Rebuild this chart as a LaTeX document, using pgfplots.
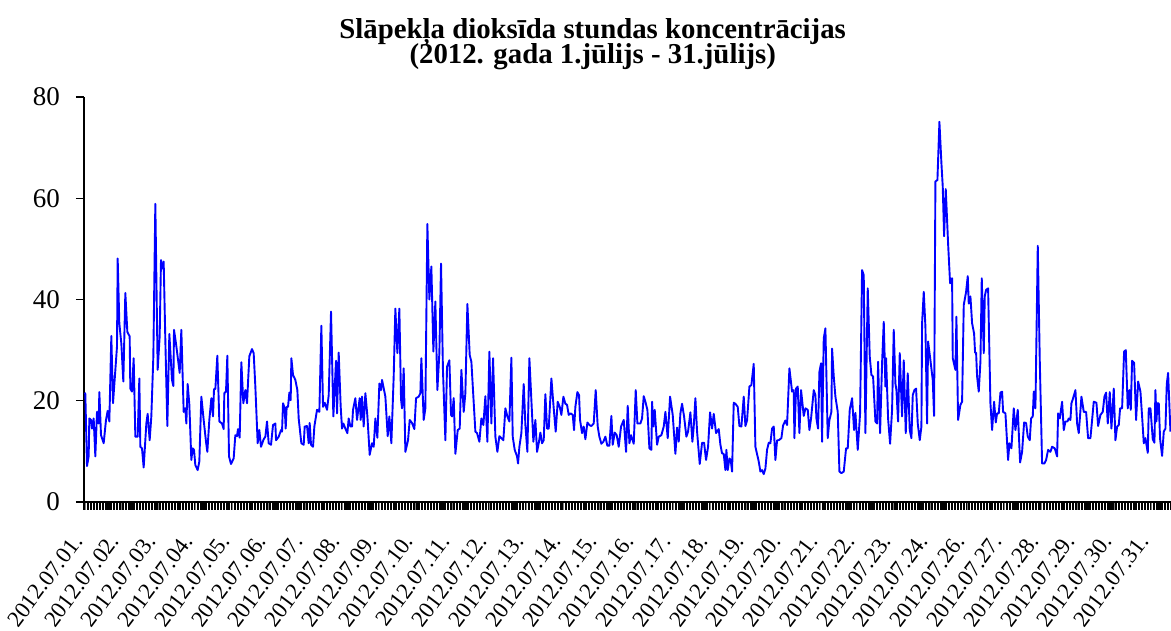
\documentclass[border=0pt]{standalone}
\usepackage{pgfplots}
\pgfplotsset{compat=1.18}
\usepackage{fontspec}
\setmainfont{Liberation Serif}
\begin{document}
\begin{tikzpicture}
\begin{axis}[
  scale only axis,
  width=543.5pt, height=202.5pt,
  xmin=-0.5, xmax=709, ymin=0, ymax=80,
  axis lines=left,
  axis line style={-, line width=0.8pt, black},
  tick align=outside,
  /pgf/number format/assume math mode=true,
  ytick={0,20,40,60,80},
  yticklabel style={font=\fontsize{13.5pt}{13.5pt}\selectfont, xshift=-4.5pt},
  ytick style={line width=0.6pt, black},
  major tick length=4pt,
  minor xtick={-0.5,0.5,...,708.5},
  minor tick length=4pt,
  minor x tick style={line width=0.55pt, black},
  xtick={0,24,...,696},
  xticklabels={2012.07.01.,2012.07.02.,2012.07.03.,2012.07.04.,2012.07.05.,2012.07.06.,2012.07.07.,2012.07.08.,2012.07.09.,2012.07.10.,2012.07.11.,2012.07.12.,2012.07.13.,2012.07.14.,2012.07.15.,2012.07.16.,2012.07.17.,2012.07.18.,2012.07.19.,2012.07.20.,2012.07.21.,2012.07.22.,2012.07.23.,2012.07.24.,2012.07.26.,2012.07.27.,2012.07.28.,2012.07.29.,2012.07.30.,2012.07.31.},
  xticklabel style={xshift=-3.5pt, yshift=-13.5pt, rotate=53, anchor=east, font=\fontsize{11.4pt}{11.4pt}\selectfont, inner sep=0pt},
  title={Slāpekļa dioksīda stundas koncentrācijas\\[-2pt](2012. gada 1.jūlijs - 31.jūlijs)},
  title style={at={(0.468,1)}, anchor=north, yshift=33.5pt, inner sep=0pt, align=center, font=\bfseries\fontsize{14.4pt}{12pt}\selectfont},
  clip=true,
]
\addplot[color={rgb,255:red,0;green,0;blue,255}, line width=0.95pt, line join=round] table {
0 21.6
0.37 21.3
1.46 7.1
2.55 9
2.98 16.5
4.07 16.2
4.72 14.5
5.81 16.5
6.9 9
7.99 17.8
9.07 15.5
9.51 21.7
10.6 13.2
12.34 11.6
13.86 16.2
14.95 18
16.04 15.9
17.34 32.8
18.43 19.5
19.95 26
21.04 30.7
21.48 48.1
22.56 35.3
23.87 31.3
25.17 23.8
26.48 41.3
27.79 33.6
29.31 32.7
29.74 22.4
30.83 21.8
31.92 28.4
33.01 12.9
34.53 12.9
35.62 24.4
36.27 10.9
37.36 10.6
38.45 6.8
40.19 15.5
41.06 17.4
42.36 12.2
43.45 16.9
44.76 28.7
46.06 58.9
47.59 26.1
48.89 32.7
49.76 47.8
50.41 46.1
51.5 47.5
52.59 32
53.9 15
55.2 33.2
56.94 24.1
57.81 22.9
58.25 34
59.55 31.3
61.29 27.1
61.95 25.5
63.03 34
64.56 17.8
65.65 18.5
66.3 15.5
67.17 23.3
68.26 19.2
69.56 8.3
70.43 10.6
71.3 10.3
72.17 7.3
73.69 6.3
74.78 8
76.09 20.8
77.61 16.2
79.13 11.9
80.0 9.9
81.31 16.2
82.62 20.5
83.7 16.9
84.36 22.3
85.23 22.3
86.53 28.9
87.84 15.9
89.58 15.5
90.67 14.4
91.1 21.5
92.19 21.8
93.06 28.9
94.15 9
95.45 7.5
97.19 8.6
98.28 13.2
99.37 13
100.02 14.4
101.11 12.7
102.2 27.6
103.5 19.5
104.81 22.1
105.9 19.5
107.42 28.8
109.16 30.2
110.25 29.4
111.34 22.8
112.86 11.6
113.95 14.2
115.03 10.9
116.79 12.4
117.88 12.9
118.96 15.9
120.05 11.6
121.57 11.3
122.88 15.2
124.4 15.5
124.84 12.2
126.58 12.9
128.1 14.2
128.75 13.9
129.41 19.5
130.5 18.5
131.15 14.5
131.8 18.8
132.67 18.8
133.54 21.6
134.41 20.1
134.85 28.4
135.94 25.1
137.46 24.1
138.76 22.1
139.63 16.5
141.37 11.6
142.9 11.3
143.55 14.9
145.07 15
146.16 11.6
146.81 15.6
147.68 11.3
148.99 10.9
149.86 14.9
151.6 18.2
153.12 17.8
154.43 34.8
155.52 18.8
156.61 19.6
158.13 18.2
159.22 21.1
160.74 37.6
162.26 16.9
164.0 27.9
164.66 17.5
165.74 29.5
167.05 18.8
167.92 14.5
168.79 15.5
170.1 14.5
171.4 13.6
172.27 16.5
173.36 14.9
174.45 14.9
175.1 18.2
176.62 20.5
177.71 16.2
179.45 20.5
180.1 16.2
180.97 20.8
182.06 14.9
183.15 21.5
184.46 17
185.98 9.3
187.5 11.6
188.59 10.9
189.68 16.5
190.98 12.7
192.29 23.4
193.38 22.1
194.03 24.1
196.21 20.8
197.73 13
198.82 16.9
200.12 11.6
201.64 24.8
202.73 38.2
204.04 29.4
205.34 38.2
206.43 20.3
207.08 18.5
208.17 26.4
209.26 9.9
211.0 12.2
212.09 16.2
213.61 15.6
215.14 14.4
216.23 20.5
217.96 20.8
219.05 21.5
219.7 28.4
221.23 16.2
222.31 18.5
223.62 54.9
224.93 40
226.23 46.5
227.54 29.7
228.84 39.6
230.15 22.1
231.45 29.4
232.54 47.1
233.8 26
235.38 12.2
236.46 26.7
237.99 28
239.07 17.2
239.73 16.9
240.82 20.5
241.9 9.5
243.43 14.2
244.73 14.5
245.82 26.1
247.34 17.8
248.43 21.5
249.74 39.1
251.26 29
252.35 27.7
253.65 20.8
254.96 13.9
256.05 13.6
257.57 11.9
258.87 16.5
260.18 15.2
261.49 20.9
262.79 11.9
264.1 29.7
265.4 15.5
266.49 28.4
268.01 12.9
269.32 9.9
270.62 13
271.93 12.6
273.23 12.2
274.54 18.5
275.85 16.9
277.15 15.9
278.46 28.5
279.33 12.9
280.63 10.3
282.16 9
282.81 7.6
283.68 10.9
284.98 13.6
286.51 23.3
287.6 15.2
288.9 9.9
290.21 28.4
291.51 20.1
292.82 11.9
294.12 16.2
295.21 9.9
296.3 11.6
297.39 13.7
298.47 11.6
299.56 12.2
300.65 21.3
301.74 14.5
302.83 14.5
304.57 24.4
306.09 18.5
307.39 13.9
308.7 19.8
310.0 18.8
311.09 17.2
312.4 20.8
313.7 19.4
314.79 19.2
315.88 17.2
317.19 17.5
318.49 17.2
319.36 14.2
320.23 18.8
321.54 21.7
322.63 21.1
323.28 16.2
324.58 13.6
325.67 14.9
326.76 12.4
328.07 15.7
329.37 15.2
330.68 15
332.2 15.5
333.5 22.1
334.81 14.9
335.9 12.9
337.2 11.5
338.51 11.9
339.81 12.9
341.12 11.1
342.42 11.1
343.73 17
344.6 11.3
345.91 13.7
347.21 13.2
348.52 10.9
350.04 14.9
351.79 16.2
353.31 9.9
354.4 19
355.49 11.6
356.57 13.2
358.32 11.5
359.62 22.1
360.71 15.5
362.67 15.5
363.75 16.5
364.84 20.9
365.93 19.8
367.24 18.2
368.54 10.6
369.85 10.3
370.28 19.8
371.15 14.9
372.02 18.2
373.55 11.3
374.63 12.9
376.37 13.2
377.9 14.9
378.99 17.8
380.51 12.6
382.03 20.8
383.77 17.2
385.51 9.5
386.6 14.7
387.69 11.9
388.78 17.5
389.86 19.4
391.17 16.9
392.69 12.9
393.78 13.9
395.3 17.7
396.61 11.9
397.48 14.9
398.57 20.5
399.66 13.9
401.4 7.5
402.92 11.7
404.23 11.7
405.53 8.3
406.84 10.9
408.14 17.7
409.45 14.5
410.54 17.4
412.06 13.6
413.8 14.4
414.89 11.3
415.97 9.6
417.06 9.5
418.15 6.3
418.8 10.3
419.67 6.3
420.76 8.6
421.63 8.3
422.5 6
423.59 19.6
424.68 19.4
426.2 18.8
427.29 15
428.59 14.9
430.12 20.8
431.21 15
432.29 16.1
433.82 22.8
435.12 23.1
436.64 27.3
437.73 10.9
439.91 8
441.0 6
442.08 6.3
443.17 5.5
444.26 6.6
445.35 10.3
446.44 11.7
447.52 11.6
448.61 14.5
449.7 14.9
450.79 8.3
451.88 12.2
452.96 12.2
454.7 12.6
455.79 15.1
457.31 16.1
458.4 15.2
459.93 26.4
461.67 21.8
462.75 22.1
463.19 12.6
464.28 22.4
465.37 22.8
466.45 13.6
467.54 22.1
469.29 17
470.38 18.5
471.9 18.2
472.99 14.2
474.07 16.5
475.82 22.1
476.9 21.1
477.56 16.5
478.64 14.5
479.51 25.7
480.6 27.4
481.25 11.9
482.34 32.3
483.43 34.3
484.95 12.6
486.04 16.2
487.35 17.8
487.78 30.3
488.87 24.8
489.96 20.8
491.48 17.8
492.57 6
493.87 5.7
495.4 6
496.92 10.6
498.01 10.6
499.31 18.2
500.84 20.5
502.14 14.2
503.01 17.6
504.54 10.3
506.06 17.5
507.36 45.8
508.45 44.8
509.54 13.6
511.06 42.2
512.37 28.7
513.46 25.1
514.54 24.8
516.07 15.9
517.16 15.5
517.81 27.7
519.11 13.6
520.42 27.4
521.51 35.6
522.6 22.8
523.03 28.4
524.34 16.5
525.64 11.5
526.95 18.2
528.03 34
529.12 23.4
529.78 22.1
530.86 15.9
531.95 29.4
533.47 16.9
534.56 28
535.87 13.6
537.17 25.4
538.48 14.2
539.57 12.6
540.44 21.1
541.52 22.1
542.61 22.4
543.7 15.5
545.01 12.2
546.09 14.9
546.53 35.3
547.62 41.5
548.71 34.6
549.79 15.5
550.45 31.7
551.97 28
553.49 24.1
554.36 17
555.23 63.3
556.54 63.6
557.84 75.1
559.15 66.9
560.02 62.3
560.89 52.5
561.98 61.8
563.5 51.1
564.81 43.2
566.11 44.2
566.55 28.4
568.29 26.1
568.94 36.6
570.03 16.2
571.55 19.2
572.64 19.8
573.73 38.9
575.25 41.5
576.34 44.6
576.99 39.2
578.08 40.6
579.17 35.3
580.47 33.3
581.12 29.5
581.78 29.5
582.43 24.8
583.52 21.8
584.61 27.7
585.48 44.2
586.79 29.4
587.44 40.6
588.31 41.9
589.62 42.2
591.14 19.5
592.23 14.2
593.53 19.8
594.62 15.7
595.49 17.5
596.58 17.5
597.67 21.6
598.75 21.8
599.41 17.8
600.93 17.5
602.67 8.3
603.54 11.6
604.85 10.6
606.37 18.5
607.46 14.2
608.98 18.2
610.5 7.8
611.81 9.9
613.12 15.7
614.42 15.6
615.51 12.9
616.81 12.2
617.68 16.5
618.77 16.9
619.43 21.8
620.51 18.5
622.04 50.6
623.34 28
624.86 7.6
626.39 7.6
627.48 8.3
628.78 10.3
630.3 9.9
631.39 10.9
633.13 10.6
634.66 9
635.31 17.5
636.4 16.5
637.92 19.8
639.01 14.2
640.1 15.9
641.4 15.9
642.27 16.5
643.36 16.2
644.01 19.5
645.1 20.5
646.62 22.1
647.71 15.5
648.8 13.6
650.54 20.8
652.06 17.8
653.59 17.8
654.89 12.6
656.41 12.6
658.59 19.8
660.33 19.6
661.42 15
662.94 17.2
664.46 17.8
665.55 20.8
666.64 21.6
667.73 15.5
669.03 21.7
670.12 14.5
671.64 22.4
672.73 12.2
673.82 14.9
674.91 15.2
675.78 18.5
677.08 18.5
678.39 29.7
679.48 30
680.78 18.5
681.87 22.1
682.74 18.2
683.61 27.9
684.92 27.5
686.22 16.2
687.53 23.8
689.05 21.8
690.14 16.9
691.23 11.6
692.31 12.6
693.84 9.7
694.49 18.5
695.58 18.5
697.1 12.4
698.19 11.7
698.84 22.1
699.5 15.9
700.15 19.5
701.02 19.5
701.89 12.4
703.19 9.1
704.28 13.9
705.37 14.5
706.24 23.3
707.11 25.5
708.63 13.9
};
\coordinate (sw) at (rel axis cs:0,0);
\coordinate (ne) at (rel axis cs:1,1);
\end{axis}
\pgfresetboundingbox
\path[use as bounding box] ([xshift=-42pt,yshift=-64.5pt]sw) rectangle ([yshift=48.5pt]ne);
\end{tikzpicture}
\end{document}
